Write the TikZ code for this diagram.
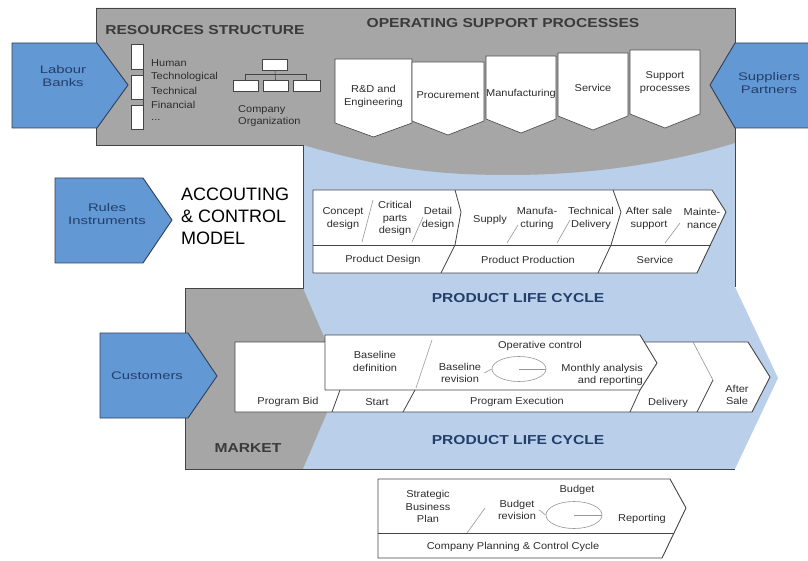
\documentclass[tikz,border=0pt]{standalone}
\usepackage{fontspec}
\setmainfont{Liberation Sans}
\newfontfamily\headfont[FakeStretch=1.2]{Liberation Sans}
\newfontfamily\lblfont[FakeStretch=1.1]{Liberation Sans}
\newfontfamily\tagfont[FakeStretch=1.35]{Liberation Sans}
\usetikzlibrary{shapes.geometric}

\definecolor{arrowblue}{RGB}{98,152,212}
\definecolor{lightblue}{RGB}{186,208,234}
\definecolor{boxgray}{RGB}{166,166,166}
\definecolor{edgegray}{RGB}{68,68,68}
\definecolor{arrowedge}{RGB}{50,62,84}
\definecolor{navy}{RGB}{36,62,108}
\definecolor{txtgray}{RGB}{45,45,45}
\definecolor{headgray}{RGB}{58,58,58}
\definecolor{sepgray}{RGB}{150,150,150}

\begin{document}
\begin{tikzpicture}[x=1pt, y=-1pt,
  every node/.style={inner sep=0pt},
  lbl/.style={font=\lblfont\fontsize{10}{12.5}\selectfont, text=txtgray, align=center},
  tag/.style={font=\tagfont\fontsize{11}{13}\selectfont, text=navy, align=center},
  head/.style={font=\headfont\bfseries\fontsize{13}{15}\selectfont, text=headgray},
  plc/.style={font=\headfont\bfseries\fontsize{13}{15}\selectfont, text=navy},
  inputarrow/.style={fill=arrowblue, draw=arrowedge, line width=0.9pt, line join=round},
  procbox/.style={fill=white, draw=edgegray, line width=0.6pt, line join=round},
  rowbox/.style={fill=white, draw=edgegray, line width=0.9pt, line join=round},
  sep/.style={draw=sepgray, line width=0.6pt},
  darksep/.style={draw=edgegray, line width=0.8pt},
  frame/.style={draw=edgegray, line width=0.8pt},
  resbox/.style={draw=edgegray, fill=white, line width=0.5pt, minimum width=12pt},
  orgbox/.style={draw=edgegray, fill=white, line width=0.5pt, minimum width=25pt, minimum height=11pt},
  cycle/.style={draw=sepgray, line width=0.6pt, ellipse, inner sep=0pt},
]
\useasboundingbox (0,0) rectangle (808,561);
\fill[white] (0,0) rectangle (808,561);

% ---------- background fields ----------
% market band
\fill[boxgray] (185,288) rectangle (400,469);
% product life cycle field (chevron)
\fill[lightblue] (303,140) -- (735,140) -- (735,287) -- (778,378) -- (735,469)
  -- (303,469) -- (342,378) -- (303,288) -- cycle;
% resources / operating support band with its lower bulge
\fill[boxgray] (96,8) -- (735,8) -- (735,143)
  .. controls (680,160) and (600,175) .. (510,175)
  .. controls (440,175) and (390,170) .. (303,145) -- (96,145) -- cycle;
% outlines
\draw[frame] (303,145) -- (96,145) -- (96,8) -- (735,8) -- (735,287);
\draw[frame] (303,145) -- (303,288) -- (185,288) -- (185,469) -- (735,469);

% ---------- headings ----------
\node[head] (resHead) at (205,30) {RESOURCES STRUCTURE};
\node[head] (opsHead) at (503,23) {OPERATING SUPPORT PROCESSES};
\node[head] (marketHead) at (248,448) {MARKET};
\node[plc] (plcUpper) at (518,298) {PRODUCT LIFE CYCLE};
\node[plc] (plcLower) at (518,440) {PRODUCT LIFE CYCLE};
\node[anchor=north west, align=left, font=\fontsize{18}{22}\selectfont, text=black]
  (acc) at (181,187.5) {ACCOUTING\\\& CONTROL\\MODEL};

% ---------- input arrows ----------
\path[inputarrow] (12,43) -- (97,43) -- (128,85) -- (97,128) -- (12,128) -- cycle;
\node[tag] (labour) at (63,76) {Labour\\Banks};

\fill[arrowblue] (808,43) -- (735,43) -- (710,85) -- (735,128) -- (808,128) -- cycle;
\draw[draw=arrowedge, line width=0.9pt, line join=round]
  (808,43) -- (735,43) -- (710,85) -- (735,128) -- (808,128);
\node[tag] (suppliers) at (769,83) {Suppliers\\Partners};

\path[inputarrow] (55,178) -- (143,178) -- (172,220) -- (143,263) -- (55,263) -- cycle;
\node[tag] (rules) at (107,214) {Rules\\Instruments};

\path[inputarrow] (100,333) -- (188,333) -- (217,376) -- (188,418) -- (100,418) -- cycle;
\node[tag] (customers) at (147,376) {Customers};

% ---------- resources structure ----------
\node[resbox, minimum height=25pt] (resA) at (137,56.5) {};
\node[resbox, minimum height=24pt] (resB) at (137,87) {};
\node[resbox, minimum height=24pt] (resC) at (137,117) {};
\draw[edgegray, line width=0.9pt] (resA.north east) -- (resC.south east);

\node[lbl, anchor=west] (rHuman) at (151,63) {Human};
\node[lbl, anchor=west] (rTechno) at (151,77) {Technological};
\node[lbl, anchor=west] (rTechn) at (151,91) {Technical};
\node[lbl, anchor=west] (rFin) at (151,105) {Financial};
\node[lbl, anchor=west] (rMore) at (151,120) {...};

\node[orgbox] (orgTop) at (275,64.5) {};
\node[orgbox] (orgA) at (245.5,85.5) {};
\node[orgbox] (orgB) at (275.5,85.5) {};
\node[orgbox, minimum width=27pt] (orgC) at (306.5,85.5) {};
\draw[edgegray, line width=0.6pt] (orgTop.south) -- (orgB.north);
\draw[edgegray, line width=0.6pt] (orgA.north) -- ++(0,-5) -| (orgC.north);
\node[lbl, anchor=west, align=left] (orgText) at (238,116) {Company\\Organization};

% ---------- operating support processes ----------
\path[procbox] (335,59) -- (412,59) -- (412,123) -- (373.5,137) -- (335,123) -- cycle;
\path[procbox] (412,62) -- (484,62) -- (484,121) -- (448,135) -- (412,121) -- cycle;
\path[procbox] (486,56) -- (556,56) -- (556,119) -- (521,133) -- (486,119) -- cycle;
\path[procbox] (558,53) -- (628,53) -- (628,116) -- (593,130) -- (558,116) -- cycle;
\path[procbox] (630,50) -- (700,50) -- (700,114) -- (665,128) -- (630,114) -- cycle;
\node[lbl] (pRD) at (373.5,96.5) {R\&D and\\Engineering};
\node[lbl] (pProc) at (448,95) {Procurement};
\node[lbl] (pManu) at (521,94) {Manufacturing};
\node[lbl] (pServ) at (593,88) {Service};
\node[lbl] (pSupp) at (665,82.5) {Support\\processes};

% ---------- product life cycle: design / production / service ----------
\path[rowbox] (313,190) -- (712,190) -- (726,212) -- (697,273) -- (313,273) -- cycle;
\draw[darksep] (313,245) -- (711,245);
\draw[darksep] (455,190) -- (461,212) -- (455,245) -- (441,273);
\draw[darksep] (613,190) -- (621,212) -- (611,245) -- (598,273);
\draw[sep] (373,200) -- (362,242);
\draw[sep] (423,217) -- (412,242);
\draw[sep] (518,225) -- (507,243);
\draw[sep] (570,220) -- (557,243);
\draw[sep] (680,223) -- (665,243);

\node[lbl] (tConcept) at (343,218.5) {Concept\\design};
\node[lbl] (tCritical) at (395,218.5) {Critical\\parts\\design};
\node[lbl] (tDetail) at (438,218.5) {Detail\\design};
\node[lbl] (tSupply) at (490,220) {Supply};
\node[lbl] (tManu) at (537,218.5) {Manufa-\\cturing};
\node[lbl] (tTech) at (591,218.5) {Technical\\Delivery};
\node[lbl] (tAfter) at (649,218.5) {After sale\\support};
\node[lbl] (tMaint) at (702,218.5) {Mainte-\\nance};
\node[lbl] (tPDesign) at (383,260) {Product Design};
\node[lbl] (tPProd) at (528,260) {Product Production};
\node[lbl] (tPServ) at (655,260) {Service};

% ---------- program cycle ----------
\path[rowbox] (235,342) -- (748,342) -- (770,377) -- (752,412) -- (235,412) -- cycle;
\path[rowbox] (325,335) -- (640,335) -- (657,363) -- (640,390) -- (325,390) -- cycle;
\draw[darksep] (340,390) -- (332,412);
\draw[darksep] (415,390) -- (403,412);
\draw[darksep] (640,390) -- (630,412);
\draw[darksep] (713,380) -- (697,412);
\draw[sep] (693,342) -- (713,380);
\draw[sep] (432,340) -- (416,388);

\node[lbl] (bDef) at (375,361.5) {Baseline\\definition};
\node[lbl] (bOper) at (540,346) {Operative control};
\node[lbl] (bRev) at (460,373) {Baseline\\revision};
\node[lbl, align=right, anchor=east] (bMonth) at (643,375) {Monthly analysis\\and reporting};
\node[cycle, minimum width=54pt, minimum height=25pt] (cycA) at (519,369) {};
\draw[sepgray, line width=0.6pt] (bRev.east) ++(3,0) -- (cycA.west);
\draw[sepgray, line width=0.6pt] (cycA.center) -- (cycA.east);

\node[lbl] (bBid) at (288,402) {Program Bid};
\node[lbl] (bStart) at (377,402) {Start};
\node[lbl] (bExec) at (517,402) {Program Execution};
\node[lbl] (bDeliv) at (668,403) {Delivery};
\node[lbl] (bAfter) at (737,395) {After\\Sale};

% ---------- company planning & control cycle ----------
\path[rowbox] (378,479) -- (670,479) -- (686,508) -- (662,558) -- (378,558) -- cycle;
\draw[darksep] (378,533) -- (674,533);
\draw[sep] (485,508) -- (467,533);
\node[lbl] (cStrat) at (428,506.5) {Strategic\\Business\\Plan};
\node[lbl] (cBudget) at (577,490) {Budget};
\node[lbl] (cRev) at (517,510) {Budget\\revision};
\node[lbl] (cRep) at (642,519) {Reporting};
\node[cycle, minimum width=56pt, minimum height=27pt] (cycB) at (574,515) {};
\draw[sepgray, line width=0.6pt] (cRev.east) ++(3,0) -- (cycB.west);
\draw[sepgray, line width=0.6pt] (cycB.center) -- (cycB.east);
\node[lbl] (cTitle) at (513,547) {Company Planning \& Control Cycle};
\end{tikzpicture}
\end{document}
